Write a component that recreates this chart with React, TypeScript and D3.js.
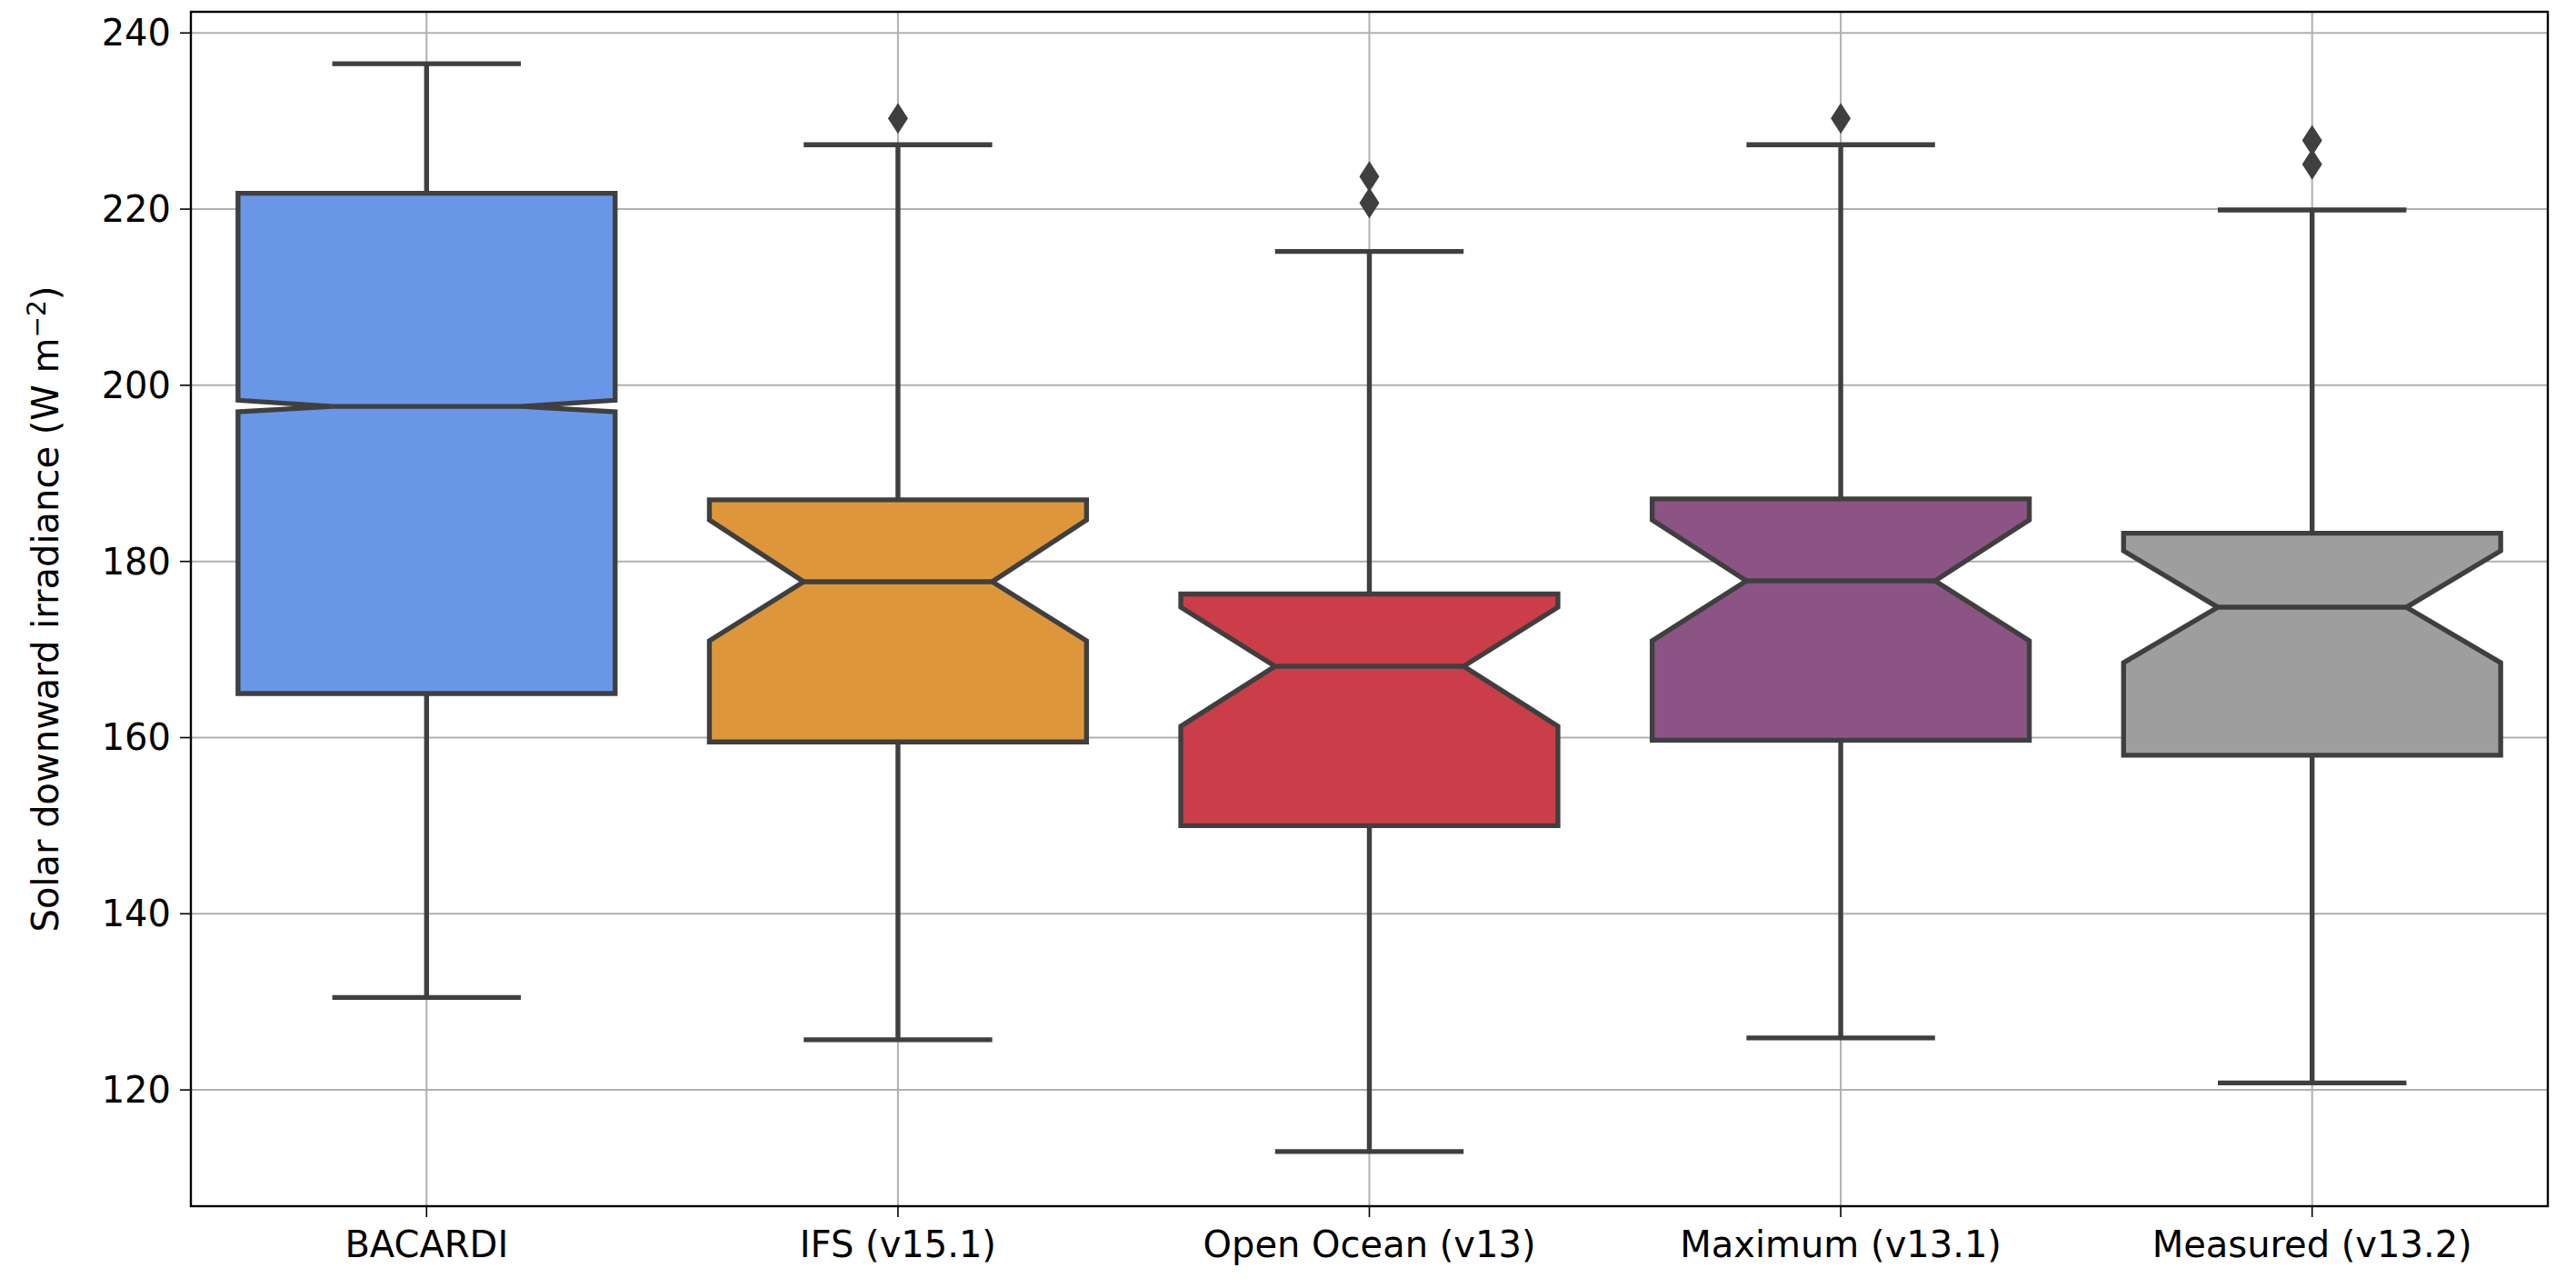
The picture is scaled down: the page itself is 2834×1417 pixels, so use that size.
import React from "react";
import * as d3 from "d3";

const categories = ["BACARDI", "IFS (v15.1)", "Open Ocean (v13)", "Maximum (v13.1)", "Measured (v13.2)"];
const colors = ["#6a96e8", "#dd973a", "#cb3d48", "#8c5485", "#9e9e9e"];
const q1 = [165, 159.5, 150, 159.7, 158];
const q3 = [221.8, 187, 176.3, 187.1, 183.2];
const medians = [197.6, 177.7, 168.1, 177.8, 174.8];
const notchLo = [197, 171, 161.3, 171, 168.5];
const notchHi = [198.3, 184.7, 174.8, 184.7, 181.2];
const whiskLo = [130.5, 125.7, 113, 125.9, 120.8];
const whiskHi = [236.5, 227.3, 215.2, 227.3, 219.9];
const outliers = [[], [230.3], [220.7, 223.7], [230.3], [225.1, 227.8]];
const yTicks = [120, 140, 160, 180, 200, 220, 240];

export default function App() {
  const W = 2834, H = 1417;
  const L = 210, R = 2803, T = 13, B = 1327;
  const y = d3.scaleLinear().domain([106.8, 242.4]).range([B, T]);
  const x = d3.scaleBand().domain(categories).range([L, R]).padding(0);
  const bw = x.bandwidth() * 0.8;
  const stroke = "#3f3f3f";
  const font = "DejaVu Sans";
  return (
    <svg width={W} height={H} style={{ position: "absolute", left: 0, top: 0, background: "#fff" }}>
      {yTicks.map(t => (
        <g key={t}>
          <line x1={L} x2={R} y1={y(t)} y2={y(t)} stroke="#b0b0b0" strokeWidth={2} />
          <line x1={L - 12} x2={L} y1={y(t)} y2={y(t)} stroke="#000" strokeWidth={1.6} />
          <text x={L - 22} y={y(t)} dy="0.35em" textAnchor="end" fontFamily={font} fontSize={40}>{t}</text>
        </g>
      ))}
      {categories.map((c, i) => {
        const cx = x(c)! + x.bandwidth() / 2;
        const x0 = cx - bw / 2, x1 = cx + bw / 2;
        const n0 = cx - bw / 4, n1 = cx + bw / 4;
        const pts: [number, number][] = [
          [x0, y(q1[i])], [x0, y(notchLo[i])], [n0, y(medians[i])], [x0, y(notchHi[i])], [x0, y(q3[i])],
          [x1, y(q3[i])], [x1, y(notchHi[i])], [n1, y(medians[i])], [x1, y(notchLo[i])], [x1, y(q1[i])],
        ];
        const cw = bw / 4;
        return (
          <g key={c}>
            <line x1={cx} x2={cx} y1={T} y2={B} stroke="#b0b0b0" strokeWidth={2} />
            <line x1={cx} x2={cx} y1={B} y2={B + 12} stroke="#000" strokeWidth={1.6} />
            <text x={cx} y={B + 56} textAnchor="middle" fontFamily={font} fontSize={40}>{c}</text>
            <line x1={cx} x2={cx} y1={y(whiskLo[i])} y2={y(q1[i])} stroke={stroke} strokeWidth={5.4} />
            <line x1={cx} x2={cx} y1={y(q3[i])} y2={y(whiskHi[i])} stroke={stroke} strokeWidth={5.4} />
            <line x1={cx - cw} x2={cx + cw} y1={y(whiskLo[i])} y2={y(whiskLo[i])} stroke={stroke} strokeWidth={5.4} />
            <line x1={cx - cw} x2={cx + cw} y1={y(whiskHi[i])} y2={y(whiskHi[i])} stroke={stroke} strokeWidth={5.4} />
            <path d={d3.line()(pts)! + "Z"} fill={colors[i]} stroke={stroke} strokeWidth={5.4} strokeLinejoin="miter" />
            <line x1={n0} x2={n1} y1={y(medians[i])} y2={y(medians[i])} stroke={stroke} strokeWidth={5.4} />
            {outliers[i].map((o, j) => (
              <path key={j} d={`M${cx},${y(o) - 17}L${cx + 11},${y(o)}L${cx},${y(o) + 17}L${cx - 11},${y(o)}Z`} fill={stroke} />
            ))}
          </g>
        );
      })}
      <rect x={L} y={T} width={R - L} height={B - T} fill="none" stroke="#000" strokeWidth={2.4} />
      <text transform={`translate(50,${(T + B) / 2}) rotate(-90)`} textAnchor="middle" dy="0.35em" fontFamily={font} fontSize={40}>
        Solar downward irradiance (W m<tspan dy="-14" fontSize={28}>−2</tspan><tspan dy="14">)</tspan>
      </text>
    </svg>
  );
}
